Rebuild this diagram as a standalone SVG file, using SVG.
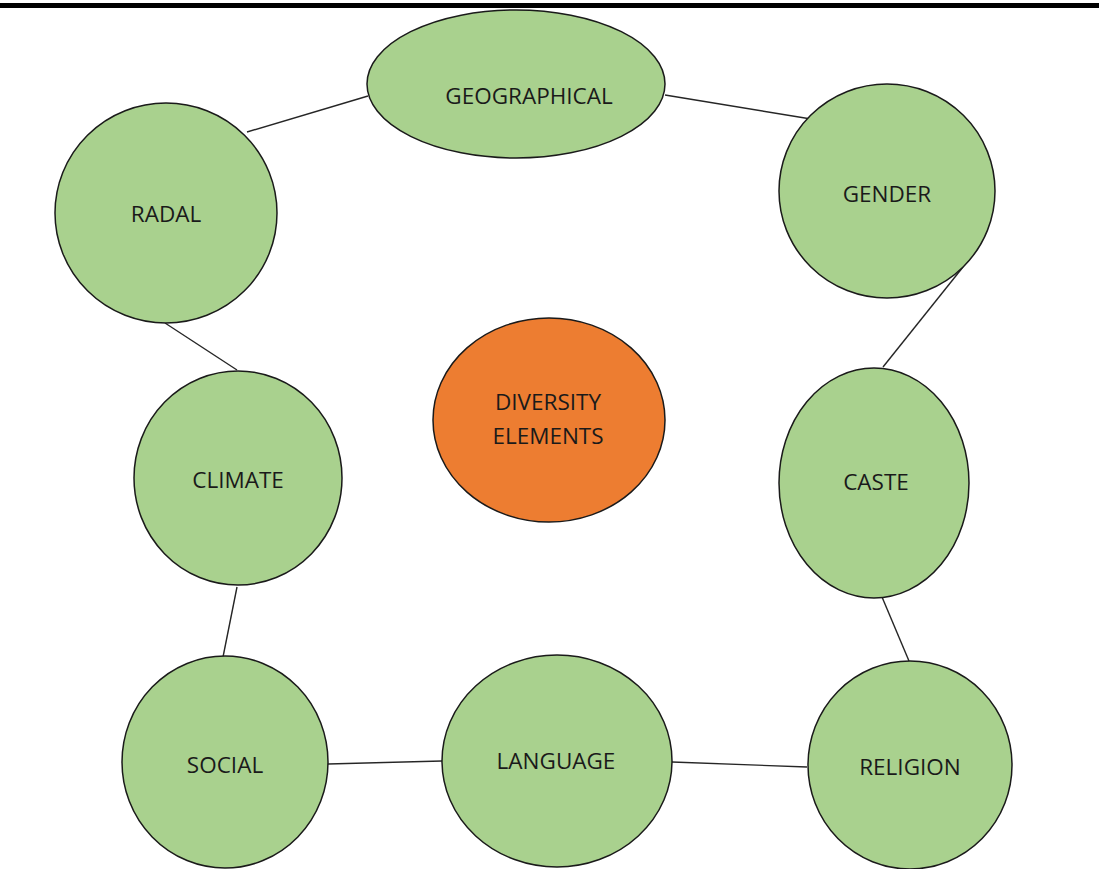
<svg xmlns="http://www.w3.org/2000/svg" width="1099" height="869" viewBox="0 0 1099 869">
<style>
.n{fill:#A9D18E;stroke:#1a1a1a;stroke-width:1.5}
.c{fill:#ED7D31;stroke:#1a1a1a;stroke-width:1.5}
.t{font-family:"Open Sans","Liberation Sans",sans-serif;font-size:22.5px;fill:#1a1a1a;text-anchor:middle}
.e line{stroke:#262626;stroke-width:1.4}
</style>
<rect x="0" y="0" width="1099" height="869" fill="#ffffff"/>
<rect x="0" y="3" width="1099" height="5" fill="#000000"/>
<g id="connectors" class="e">
<line x1="247" y1="132" x2="368" y2="96"/>
<line x1="665" y1="95" x2="811" y2="119"/>
<line x1="963" y1="267" x2="883" y2="367"/>
<line x1="165" y1="323" x2="237" y2="370"/>
<line x1="237" y1="587" x2="223" y2="657"/>
<line x1="882" y1="597" x2="909" y2="661"/>
<line x1="328" y1="764" x2="442" y2="761"/>
<line x1="672" y1="762" x2="807" y2="767"/>
</g>
<g id="geographical"><ellipse class="n" cx="516" cy="84" rx="149" ry="74"/><text class="t" x="529" y="104">GEOGRAPHICAL</text></g>
<g id="radal"><ellipse class="n" cx="166" cy="213" rx="111" ry="110"/><text class="t" x="166" y="222">RADAL</text></g>
<g id="gender"><ellipse class="n" cx="887" cy="191" rx="108" ry="107"/><text class="t" x="887" y="202">GENDER</text></g>
<g id="climate"><ellipse class="n" cx="238" cy="478" rx="104" ry="107"/><text class="t" x="238" y="488">CLIMATE</text></g>
<g id="diversity"><ellipse class="c" cx="549" cy="420" rx="116" ry="102"/><text class="t" x="548" y="410">DIVERSITY</text><text class="t" x="548" y="444">ELEMENTS</text></g>
<g id="caste"><ellipse class="n" cx="874" cy="483" rx="95" ry="115"/><text class="t" x="876" y="490">CASTE</text></g>
<g id="social"><ellipse class="n" cx="225" cy="762" rx="103" ry="106"/><text class="t" x="225" y="773">SOCIAL</text></g>
<g id="language"><ellipse class="n" cx="557" cy="761" rx="115" ry="106"/><text class="t" x="556" y="769">LANGUAGE</text></g>
<g id="religion"><ellipse class="n" cx="910" cy="765" rx="102" ry="104"/><text class="t" x="910" y="775">RELIGION</text></g>
</svg>
